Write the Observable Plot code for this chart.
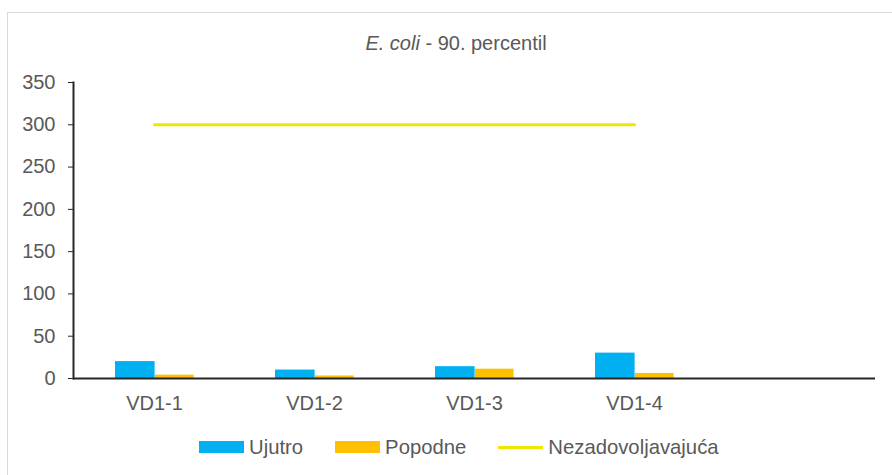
<!DOCTYPE html>
<html><head><meta charset="utf-8">
<script src="https://cdn.jsdelivr.net/npm/d3@7"></script>
<script src="https://cdn.jsdelivr.net/npm/@observablehq/plot@0.6"></script>
<style>
html,body{margin:0;padding:0;background:#fff;overflow:hidden}
#wrap{position:relative;width:892px;height:475px;font-family:"Liberation Sans",Arial,sans-serif;color:#595959;overflow:hidden}
#border{position:absolute;left:7px;top:12px;width:900px;height:480px;border-left:1px solid #d9d9d9;border-top:1px solid #d9d9d9}
#title{position:absolute;left:456px;top:31px;transform:translateX(-50%);font-size:20px;line-height:24px;white-space:nowrap}
#chart{position:absolute;left:0;top:0}
#legend{position:absolute;left:199px;top:435px;height:24px;display:flex;align-items:center;font-size:20.3px;white-space:nowrap}
.item{display:flex;align-items:center;margin-right:32px}
.sw{width:45px;height:12px;margin-right:5px}
.ln{width:45px;height:3px;margin-right:5px}
</style></head><body>
<div id="wrap">
 <div id="border"></div>
 <div id="title"><i>E. coli</i> - 90. percentil</div>
 <div id="chart"></div>
 <div id="legend"></div>
</div>
<script>
const categories = ["VD1-1","VD1-2","VD1-3","VD1-4"];
const emptySlot = "";
const ujutro = [20,10,14,30];
const popodne = [4,3,11,6];
const threshold = 300;
const yTicks = [0,50,100,150,200,250,300,350];
const seriesNames = ["Ujutro","Popodne","Nezadovoljavajuća"];
const colors = ["#00B0F0","#FFC000","#F2E600"];

const rows = categories.map((c,i)=>({cat:c, u:ujutro[i], p:popodne[i]}));
const lineRows = categories.map(c=>({cat:c, v:threshold}));

const chart = Plot.plot({
  width: 892, height: 475,
  marginTop: 82, marginBottom: 97, marginLeft: 73, marginRight: 17,
  style: {fontFamily: '"Liberation Sans", Arial, sans-serif', fontSize: "20px", color: "#595959", background: "transparent"},
  x: {type: "band", domain: [...categories, emptySlot], padding: 0, label: null},
  y: {domain: [0,350], label: null},
  marks: [
    Plot.barY(rows, {x:"cat", y:"u", fill: colors[0], insetLeft: 41, insetRight: 79.4}),
    Plot.barY(rows, {x:"cat", y:"p", fill: colors[1], insetLeft: 81, insetRight: 40.4}),
    Plot.lineY(lineRows, {x:"cat", y:"v", stroke: colors[2], strokeWidth: 3}),
    Plot.axisY({ticks: yTicks, tickSize: 5, tickPadding: 13, stroke: "#262626", fill: "#595959", fontSize: 20, label: null}),
    Plot.axisX({tickSize: 0, tickPadding: 17, fill: "#595959", fontSize: 20, label: null}),
    Plot.frame({anchor: "left", stroke: "#262626", strokeWidth: 2}),
    Plot.ruleY([0], {stroke: "#262626", strokeWidth: 2})
  ]
});
document.getElementById("chart").appendChild(chart);

const legend = document.getElementById("legend");
seriesNames.forEach((n,i)=>{
  const it = document.createElement("div"); it.className = "item";
  const sw = document.createElement("div"); sw.className = i<2 ? "sw" : "ln";
  sw.style.background = colors[i];
  const t = document.createElement("span"); t.textContent = n;
  it.appendChild(sw); it.appendChild(t); legend.appendChild(it);
});
</script>
</body></html>
